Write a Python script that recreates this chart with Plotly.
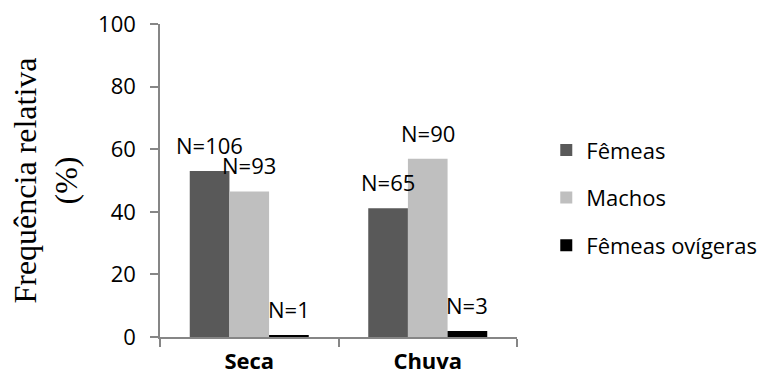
import plotly.graph_objects as go

# Sample counts per season and group
seasons = ["Seca", "Chuva"]
groups = ["Fêmeas", "Machos", "Fêmeas ovígeras"]
counts = {
    "Fêmeas": [106, 65],
    "Machos": [93, 90],
    "Fêmeas ovígeras": [1, 3],
}
colors = {"Fêmeas": "#595959", "Machos": "#BFBFBF", "Fêmeas ovígeras": "#000000"}

# Relative frequency (%) within each season
totals = [sum(counts[g][i] for g in groups) for i in range(len(seasons))]
freq = {g: [100.0 * counts[g][i] / totals[i] for i in range(len(seasons))] for g in groups}

FONT = "Open Sans"
FS = 22
AXIS = "#868686"

fig = go.Figure()
for k, g in enumerate(groups):
    fig.add_trace(go.Bar(
        name=g, x=seasons, y=freq[g],
        marker=dict(color=colors[g], line=dict(width=0)),
        legendgroup=g,
    ))

# "N=" labels above each bar
bar_w = (1 - 1 / 3) / len(groups)
annotations = []
for k, g in enumerate(groups):
    off = (k - (len(groups) - 1) / 2) * bar_w
    for i in range(len(seasons)):
        annotations.append(dict(
            x=i + off, y=freq[g][i], xref="x", yref="y",
            text=f"N={counts[g][i]}", showarrow=False,
            yanchor="middle", yshift=26,
            font=dict(family=FONT, size=FS, color="#000000"),
        ))

# Vertical axis title
annotations.append(dict(
    x=-0.322, y=0.5, xref="paper", yref="paper",
    text="Frequência relativa<br>(%)", showarrow=False, textangle=-90,
    font=dict(family="Liberation Serif", size=32, color="#000000"),
    xanchor="center", yanchor="middle",
))

fig.update_layout(
    width=764, height=381,
    margin=dict(l=160, r=247, t=24, b=44, autoexpand=False),
    paper_bgcolor="white", plot_bgcolor="white",
    barmode="group", bargap=1 / 3, bargroupgap=0,
    font=dict(family=FONT, size=FS, color="#000000"),
    showlegend=True,
    legend=dict(
        x=1.082, y=0.664, xanchor="left", yanchor="top",
        font=dict(family=FONT, size=FS, color="#000000"),
        traceorder="grouped", tracegroupgap=16,
        itemwidth=30, bgcolor="rgba(0,0,0,0)",
    ),
    annotations=annotations,
)

fig.update_xaxes(
    showline=True, linecolor=AXIS, linewidth=1.5,
    ticks="outside", tickson="boundaries", ticklen=8, tickcolor=AXIS, tickwidth=1.5,
    tickfont=dict(family=FONT, size=FS, weight="bold", color="#000000"),
    ticklabelstandoff=4, automargin=False,
    showgrid=False, zeroline=False,
)
fig.update_yaxes(
    range=[0, 100], tickvals=[0, 20, 40, 60, 80, 100],
    showline=True, linecolor=AXIS, linewidth=1.5,
    ticks="outside", ticklen=8, tickcolor=AXIS, tickwidth=1.5,
    tickfont=dict(family=FONT, size=FS, color="#000000"),
    ticklabelstandoff=10, automargin=False,
    showgrid=False, zeroline=False,
)

fig.write_html("out.html")
